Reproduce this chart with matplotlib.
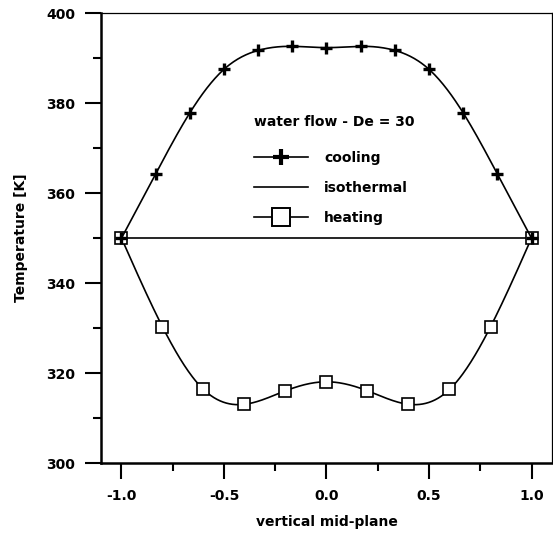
import numpy as np
import matplotlib
matplotlib.use("Agg")
import matplotlib.pyplot as plt
from matplotlib.lines import Line2D
from matplotlib.ticker import MultipleLocator

plt.rcParams['font.family'] = ['DejaVu Sans']
plt.rcParams['font.weight'] = 'bold'

# temperature along the vertical mid-plane, water flow at De = 30
x_cool = [-1.0, -0.833, -0.667, -0.5, -0.333, -0.167, 0.0,
          0.167, 0.333, 0.5, 0.667, 0.833, 1.0]
t_cool = [350.0, 364.3, 377.8, 387.5, 391.7, 392.6, 392.3,
          392.6, 391.7, 387.5, 377.8, 364.3, 350.0]

x_heat = [-1.0, -0.8, -0.6, -0.4, -0.2, 0.0, 0.2, 0.4, 0.6, 0.8, 1.0]
t_heat = [350.0, 330.3, 316.4, 313.1, 316.1, 318.1, 316.1, 313.1, 316.4, 330.3, 350.0]

x_iso = [-1.0, 1.0]
t_iso = [350.0, 350.0]


def natural_spline(x, y, num=400):
    # smooth connecting line through the measured points
    x = np.asarray(x, float)
    y = np.asarray(y, float)
    n = len(x)
    h = np.diff(x)
    A = np.zeros((n, n))
    r = np.zeros(n)
    A[0, 0] = A[-1, -1] = 1
    for i in range(1, n - 1):
        A[i, i - 1] = h[i - 1]
        A[i, i] = 2 * (h[i - 1] + h[i])
        A[i, i + 1] = h[i]
        r[i] = 6 * ((y[i + 1] - y[i]) / h[i] - (y[i] - y[i - 1]) / h[i - 1])
    M = np.linalg.solve(A, r)
    xs = np.linspace(x[0], x[-1], num)
    k = np.clip(np.searchsorted(x, xs) - 1, 0, n - 2)
    t0 = x[k + 1] - xs
    t1 = xs - x[k]
    hk = h[k]
    ys = (M[k] * t0**3 + M[k + 1] * t1**3) / (6 * hk) \
        + (y[k] / hk - M[k] * hk / 6) * t0 + (y[k + 1] / hk - M[k + 1] * hk / 6) * t1
    return xs, ys


fig = plt.figure(figsize=(5.53, 5.33), dpi=100)
ax = fig.add_axes([0.1826, 0.1308, 0.8156, 0.8448])

lw = 1.2
ax.plot(x_iso, t_iso, color='black', lw=lw, zorder=2)

xs, ys = natural_spline(x_heat, t_heat)
ax.plot(xs, ys, color='black', lw=lw, zorder=2)
ax.plot(x_heat, t_heat, ls='none', marker='s', ms=8.5, mfc='white', mec='black', mew=1.2, zorder=3)

xs, ys = natural_spline(x_cool, t_cool)
ax.plot(xs, ys, color='black', lw=lw, zorder=4)
ax.plot(x_cool, t_cool, ls='none', marker='+', ms=8, mec='black', mew=2.4, zorder=5)

ax.set_xlim(-1.1, 1.1)
ax.set_ylim(300, 400)
ax.xaxis.set_major_locator(MultipleLocator(0.5))
ax.xaxis.set_minor_locator(MultipleLocator(0.25))
ax.yaxis.set_major_locator(MultipleLocator(20))
ax.yaxis.set_minor_locator(MultipleLocator(10))
ax.xaxis.set_major_formatter(plt.FormatStrFormatter('%.1f'))
ax.tick_params(which='major', direction='out', length=11.5, width=1.5, labelsize=10, pad=7)
ax.tick_params(which='minor', direction='out', length=6, width=1.5)
ax.tick_params(top=False, right=False, which='both')

for side in ['left', 'bottom']:
    ax.spines[side].set_linewidth(1.8)
for side in ['top', 'right']:
    ax.spines[side].set_linewidth(0.9)

ax.set_xlabel('vertical mid-plane', fontsize=10, fontweight='bold', labelpad=9)
ax.set_ylabel('Temperature [K]', fontsize=10, fontweight='bold', labelpad=13)

# legend heading sits a little further above the entries than the row pitch
fig.text(254 / 553, 1 - 122 / 533, 'water flow - De = 30', fontsize=10,
         fontweight='bold', ha='left', va='center')

handles = [
    Line2D([], [], color='black', lw=lw, marker='+', ms=12, mew=3),
    Line2D([], [], color='black', lw=lw),
    Line2D([], [], color='black', lw=lw, marker='s', ms=12.5, mfc='white', mew=1.4),
]
leg = ax.legend(handles, ['cooling', 'isothermal', 'heating'], loc='upper left',
                bbox_to_anchor=(254 / 553, 1 - 151 / 533), bbox_transform=fig.transFigure,
                frameon=False, fontsize=10,
                handlelength=3.9, handletextpad=1.15, labelspacing=1.15,
                borderpad=0, borderaxespad=0, numpoints=1)

fig.savefig('out.png', dpi=100)
